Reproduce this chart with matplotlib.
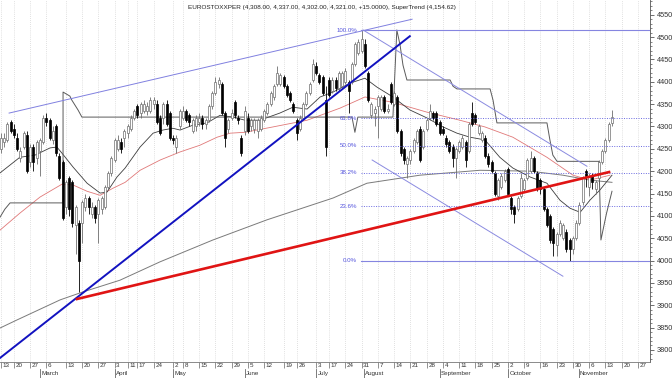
import numpy as np
import matplotlib.pyplot as plt
from matplotlib.ticker import MultipleLocator
from matplotlib.transforms import blended_transform_factory

plt.rcParams['font.family'] = ['Liberation Sans', 'DejaVu Sans']

# daily candles, index = trading day from Feb 13
opens = [4250, 4265, 4270, 4310, 4295, 4275, 4230, 4255, 4280, 4220,
         4255, 4230, 4245, 4265, 4320, 4315, 4270, 4300, 4235, 4220,
         4120, 4185, 4175, 4080, 4085, 4085, 4120, 4140, 4105, 4120,
         4105, 4115, 4120, 4165, 4195, 4225, 4250, 4265, 4275, 4285,
         4295, 4320, 4345, 4330, 4335, 4335, 4335, 4350, 4350, 4320,
         4320, 4350, 4330, 4275, 4255, 4300, 4320, 4335, 4325, 4290,
         4300, 4310, 4320, 4305, 4315, 4345, 4375, 4395, 4395, 4330,
         4295, 4320, 4355, 4320, 4275, 4290, 4320, 4300, 4295, 4290,
         4295, 4315, 4330, 4350, 4365, 4395, 4395, 4410, 4390, 4375,
         4350, 4315, 4295, 4320, 4350, 4375, 4405, 4435, 4415, 4410,
         4360, 4405, 4380, 4405, 4385, 4390, 4400, 4400, 4400, 4440,
         4465, 4470, 4485, 4420, 4325, 4330, 4345, 4340, 4365, 4335,
         4395, 4350, 4365, 4290, 4250, 4215, 4225, 4245, 4265, 4295,
         4255, 4295, 4320, 4330, 4330, 4310, 4295, 4275, 4265, 4255,
         4230, 4245, 4255, 4265, 4245, 4330, 4325, 4285, 4270, 4275,
         4235, 4220, 4195, 4145, 4165, 4180, 4205, 4140, 4120, 4115,
         4145, 4160, 4185, 4200, 4230, 4195, 4180, 4160, 4115, 4100,
         4070, 4035, 4060, 4050, 4065, 4045, 4025, 4050, 4085, 4130,
         4200, 4165, 4190, 4160, 4185, 4220, 4245, 4270, 4308]
highs = [4285, 4285, 4310, 4315, 4305, 4285, 4255, 4290, 4290, 4260,
         4260, 4270, 4275, 4325, 4330, 4320, 4300, 4305, 4240, 4225,
         4180, 4190, 4180, 4125, 4090, 4135, 4150, 4145, 4130, 4125,
         4140, 4145, 4170, 4200, 4235, 4275, 4280, 4275, 4295, 4305,
         4325, 4340, 4350, 4355, 4360, 4355, 4365, 4365, 4360, 4325,
         4355, 4360, 4335, 4280, 4280, 4340, 4345, 4340, 4330, 4320,
         4325, 4330, 4325, 4320, 4350, 4380, 4410, 4410, 4400, 4335,
         4320, 4340, 4360, 4325, 4280, 4345, 4330, 4320, 4320, 4320,
         4325, 4340, 4355, 4380, 4395, 4435, 4420, 4415, 4395, 4380,
         4355, 4320, 4325, 4355, 4380, 4400, 4450, 4445, 4420, 4415,
         4390, 4410, 4410, 4410, 4425, 4425, 4430, 4405, 4445, 4490,
         4495, 4515, 4495, 4425, 4355, 4345, 4370, 4370, 4370, 4350,
         4400, 4380, 4370, 4295, 4255, 4235, 4250, 4275, 4295, 4300,
         4295, 4320, 4350, 4335, 4335, 4315, 4300, 4280, 4270, 4260,
         4255, 4270, 4280, 4270, 4310, 4355, 4330, 4305, 4290, 4280,
         4240, 4225, 4200, 4185, 4195, 4205, 4210, 4145, 4125, 4145,
         4195, 4185, 4230, 4245, 4235, 4200, 4185, 4165, 4120, 4105,
         4075, 4065, 4090, 4085, 4070, 4050, 4055, 4090, 4130, 4190,
         4205, 4195, 4195, 4180, 4225, 4250, 4275, 4310, 4337]
lows = [4240, 4255, 4265, 4285, 4275, 4245, 4220, 4250, 4195, 4210,
        4200, 4215, 4190, 4260, 4300, 4270, 4260, 4235, 4180, 4090,
        4105, 4100, 4075, 4015, 3930, 4040, 4110, 4105, 4095, 4085,
        4040, 4105, 4115, 4160, 4190, 4220, 4245, 4240, 4255, 4275,
        4290, 4315, 4320, 4320, 4330, 4325, 4330, 4340, 4305, 4280,
        4305, 4300, 4270, 4260, 4240, 4295, 4315, 4310, 4300, 4285,
        4290, 4300, 4295, 4295, 4310, 4340, 4370, 4385, 4325, 4255,
        4285, 4315, 4320, 4305, 4235, 4280, 4285, 4290, 4285, 4275,
        4290, 4310, 4325, 4345, 4360, 4390, 4390, 4385, 4365, 4355,
        4330, 4270, 4290, 4315, 4345, 4370, 4400, 4415, 4395, 4370,
        4235, 4365, 4375, 4380, 4380, 4385, 4395, 4330, 4395, 4435,
        4460, 4465, 4430, 4355, 4320, 4300, 4275, 4335, 4330, 4330,
        4350, 4345, 4285, 4235, 4215, 4185, 4215, 4240, 4260, 4220,
        4250, 4290, 4315, 4315, 4300, 4280, 4280, 4255, 4240, 4210,
        4185, 4240, 4250, 4210, 4240, 4300, 4305, 4280, 4265, 4230,
        4210, 4195, 4145, 4135, 4160, 4175, 4145, 4105, 4085, 4110,
        4140, 4155, 4180, 4195, 4195, 4155, 4150, 4110, 4075, 4040,
        4010, 4010, 4055, 4045, 4020, 4000, 4015, 4045, 4080, 4125,
        4165, 4145, 4160, 4150, 4180, 4215, 4240, 4265, 4302]
closes = [4275, 4275, 4305, 4290, 4280, 4250, 4245, 4285, 4200, 4255,
          4220, 4265, 4270, 4320, 4310, 4275, 4290, 4240, 4185, 4095,
          4175, 4115, 4085, 4120, 4000, 4130, 4140, 4120, 4120, 4095,
          4135, 4140, 4165, 4195, 4230, 4270, 4270, 4250, 4290, 4300,
          4320, 4335, 4325, 4350, 4350, 4345, 4360, 4360, 4310, 4285,
          4350, 4305, 4275, 4270, 4275, 4335, 4335, 4315, 4310, 4315,
          4320, 4320, 4305, 4315, 4345, 4375, 4400, 4405, 4330, 4275,
          4315, 4330, 4325, 4315, 4240, 4335, 4290, 4315, 4315, 4315,
          4320, 4335, 4350, 4375, 4390, 4420, 4415, 4390, 4370, 4360,
          4335, 4285, 4320, 4350, 4375, 4395, 4440, 4420, 4400, 4375,
          4255, 4370, 4405, 4385, 4420, 4420, 4425, 4380, 4440, 4485,
          4490, 4495, 4435, 4360, 4350, 4340, 4365, 4365, 4335, 4340,
          4355, 4375, 4290, 4240, 4225, 4230, 4245, 4270, 4290, 4225,
          4290, 4315, 4335, 4320, 4305, 4285, 4285, 4260, 4245, 4230,
          4250, 4265, 4275, 4225, 4305, 4305, 4310, 4300, 4285, 4235,
          4215, 4200, 4150, 4180, 4190, 4200, 4150, 4115, 4105, 4140,
          4185, 4180, 4225, 4230, 4200, 4160, 4160, 4115, 4080, 4045,
          4040, 4060, 4085, 4080, 4025, 4025, 4050, 4085, 4125, 4185,
          4190, 4190, 4175, 4175, 4220, 4245, 4270, 4305, 4321]

# moving averages
ma_fast_x = [-0.3, 5.8, 10.5, 15.1, 17.2, 18.8, 22.2, 26.5, 30.5, 32.6, 35.7, 38.2,
             42.8, 46.8, 49.8, 52.9, 55.1, 59.1, 63.4, 67.4, 71.4, 75.1, 79.7, 85.8,
             89.8, 94.2, 98.2, 102.2, 107.4, 112, 115.7, 120.6, 125.8, 131.1, 136,
             140.3, 144.3, 148.9, 153.5, 157.5, 162.8, 168, 172, 175.1, 178.2, 181.2,
             184.3, 188]
ma_fast = [4196, 4231, 4236, 4252, 4254, 4240, 4209, 4173, 4151, 4153, 4187, 4207,
           4254, 4285, 4292, 4296, 4292, 4303, 4308, 4325, 4321, 4314, 4314, 4330,
           4343, 4339, 4366, 4377, 4397, 4408, 4388, 4366, 4337, 4319, 4299,
           4285, 4276, 4270, 4231, 4207, 4187, 4173, 4135, 4117, 4108, 4135,
           4158, 4191]
ma_mid_x = [-0.3, 5.8, 12, 18.8, 22.2, 26.5, 30.5, 34.5, 38.2, 42.8, 49, 55.1, 61.2,
            66.5, 70.5, 75.1, 83.7, 94.2, 104.3, 112, 120.6, 131.1, 141.2, 148.9,
            157.5, 168, 176, 181.2, 187.4]
ma_mid = [4068, 4106, 4142, 4171, 4169, 4155, 4146, 4162, 4175, 4202, 4225, 4243, 4258,
          4276, 4285, 4287, 4299, 4314, 4341, 4366, 4354, 4332, 4314, 4299,
          4276, 4231, 4191, 4180, 4191]
ma_slow_x = [-0.3, 4.9, 18.2, 24.9, 36.6, 48.9, 65.2, 81.8, 102.2, 112.6, 128.9,
             147.4, 162.8, 172.9, 181.2, 188]
ma_slow = [3849, 3867, 3912, 3929, 3956, 3997, 4046, 4091, 4140, 4173, 4191,
           4202, 4200, 4191, 4180, 4175]

# SuperTrend
st_x = [-0.3, 1.2, 2.8, 18.8, 19.1, 19.1, 21.2, 21.8, 23.7, 24.9, 108, 108.9, 109.8,
        120.6, 121.8, 122.8, 123.7, 124.9, 138.2, 139.1, 140.3, 150.5, 151.4, 152.6,
        168, 168.9, 169.8, 171.1, 184.0, 184.6, 186.3, 188.0]
st = [4097, 4115, 4129, 4129, 4129, 4377, 4368, 4359, 4337, 4321, 4321, 4287, 4321,
      4321, 4516, 4482, 4437, 4404, 4404, 4390, 4384, 4384, 4359, 4308,
      4308, 4270, 4236, 4222, 4222, 4046, 4105, 4155]

# drawn trend lines (x idx pairs, price pairs)
chan_x, chan_y = [2.5, 126.5], [4330, 4540]
blue_x, blue_y = [-0.3, 125.8], [3782, 4502]
red_x, red_y = [23.4, 187.1], [3914, 4198]
down1_x, down1_y = [111.4, 180.3], [4516, 4211]
down2_x, down2_y = [114.2, 172.9], [4225, 3965]

fib_levels = [4515, 4318, 4257, 4197, 4122, 4000]
fib_labels = ['100.0%', '61.8%', '50.0%', '38.2%', '23.6%', '0.0%']

day_pos = [0, 4, 9, 14, 20, 25, 30, 35, 39, 42, 47, 53, 56, 61, 66, 71, 76, 81, 87, 91,
           97, 101, 106, 111, 116, 121, 126, 131, 136, 141, 146, 151, 156, 161, 166,
           171, 176, 181, 186, 191, 196]
day_lbl = ['13', '20', '27', '6', '13', '20', '27', '3', '11', '17', '24', '2', '8', '15',
           '22', '29', '5', '12', '19', '26', '3', '17', '24', '31', '7', '14', '21', '28',
           '4', '11', '18', '25', '2', '9', '16', '23', '30', '6', '13', '20', '27']
month_pos = [12, 35, 53, 75, 97, 111.7, 135, 156, 177.7]
month_lbl = ['March', 'April', 'May', 'June', 'July', 'August', 'September',
             'October', 'November']

fig = plt.figure(figsize=(6.72, 3.78), dpi=100)
ax = fig.add_axes([0, 16 / 378, 650 / 672, 362 / 378])
ax.set_xlim(-0.3, 199.7)
ax.set_ylim(3773, 4583)

# grid
for p in day_pos:
    ax.axvline(p, color='#c4c4c4', lw=0.5, ls=(0, (1, 2)), zorder=0)

# indicators
ax.plot(ma_slow_x, ma_slow, color='#7a7a7a', lw=0.7, zorder=2)
ax.plot(ma_mid_x, ma_mid, color='#e07878', lw=0.6, zorder=2)
ax.plot(ma_fast_x, ma_fast, color='#3c3c3c', lw=0.6, zorder=2)
ax.plot(st_x, st, color='#5a5a5a', lw=0.7, zorder=2)

# candles
idx = np.arange(len(closes))
o, h, l, c = map(np.array, (opens, highs, lows, closes))
up = c >= o
ax.vlines(idx[up], l[up], h[up], color='#6e6e6e', lw=0.6, zorder=3)
ax.vlines(idx[~up], l[~up], h[~up], color='black', lw=0.6, zorder=3)
ax.bar(idx[up], (c - o)[up], bottom=o[up], width=0.62, color='white',
       edgecolor='#6e6e6e', lw=0.5, zorder=4)
ax.bar(idx[~up], (c - o)[~up], bottom=o[~up], width=0.62, color='black',
       edgecolor='black', lw=0.5, zorder=4)

# trend lines
ax.plot(chan_x, chan_y, color='#8080e0', lw=0.7, zorder=5)
ax.plot(down1_x, down1_y, color='#8a8ae0', lw=0.7, zorder=5)
ax.plot(down2_x, down2_y, color='#8a8ae0', lw=0.7, zorder=5)
ax.plot(blue_x, blue_y, color='#1212c0', lw=1.4, zorder=6)
ax.plot(red_x, red_y, color='#e01414', lw=1.9, zorder=6)

# fibonacci
for lev, lab in zip(fib_levels, fib_labels):
    if lab in ('100.0%', '0.0%'):
        ax.plot([110.7, 199.7], [lev, lev], color='#8585e0', lw=0.8, zorder=5)
    else:
        ax.plot([110.7, 199.7], [lev, lev], color='#6a6ae0', lw=0.7,
                ls=(0, (1, 1.5)), zorder=5)
    ax.text(109.6, lev, lab, ha='right', va='center', fontsize=4.4,
            color='#5555dd', zorder=7)

# axes styling
for s in ('left', 'top'):
    ax.spines[s].set_visible(False)
ax.spines['right'].set_color('#555555')
ax.spines['right'].set_linewidth(0.6)
ax.spines['bottom'].set_color('#777777')
ax.spines['bottom'].set_linewidth(0.6)

ax.yaxis.tick_right()
ax.set_yticks(np.arange(3800, 4551, 50))
ax.yaxis.set_minor_locator(MultipleLocator(10))
ax.tick_params(axis='y', which='major', length=3, width=0.6, color='#555555',
               labelsize=5.3, pad=2, labelcolor='#333333')
ax.tick_params(axis='y', which='minor', length=1.5, width=0.5, color='#555555')

ax.set_xticks(day_pos)
ax.tick_params(axis='x', which='major', length=4.3, width=0.5, color='#666666',
               labelbottom=False)

trans = blended_transform_factory(ax.transData, fig.transFigure)
for p, lab in zip(day_pos, day_lbl):
    ax.text(p + 0.45, 12.5 / 378, lab, transform=trans, ha='left', va='center',
            fontsize=4.5, color='#333333', clip_on=False)
for p, lab in zip(month_pos, month_lbl):
    ax.plot([p, p], [9 / 378, 0], transform=trans, color='#666666', lw=0.6,
            clip_on=False)
    ax.text(p + 0.45, 4.8 / 378, lab, transform=trans, ha='left', va='center',
            fontsize=4.5, color='#333333', clip_on=False)

fig.text(322 / 672, 1 - 7 / 378,
         'EUROSTOXXPER (4,308.00, 4,337.00, 4,302.00, 4,321.00, +15.0000), '
         'SuperTrend (4,154.62)', ha='center', va='center', fontsize=4.6,
         color='#222222')

fig.savefig('out.png', dpi=100, facecolor='white')
